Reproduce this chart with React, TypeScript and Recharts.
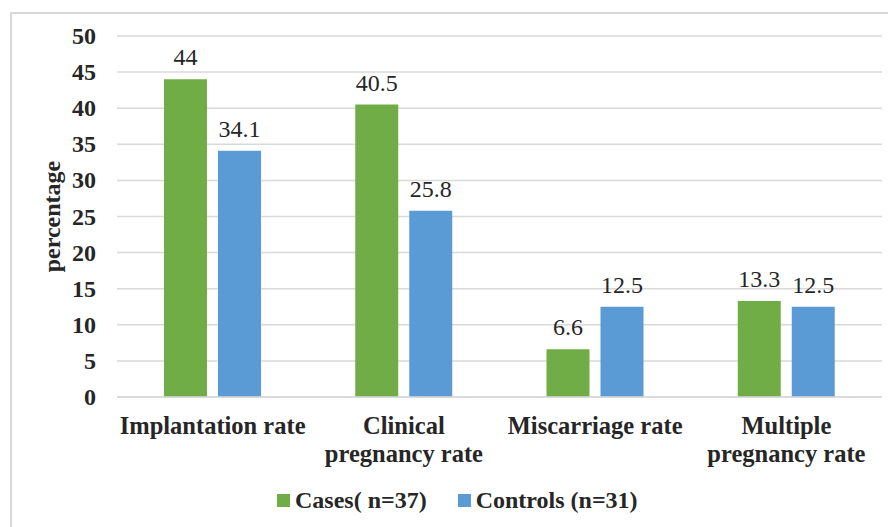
import { BarChart, Bar, XAxis, YAxis, CartesianGrid, Legend, LabelList } from "recharts";

const categories = ["Implantation rate", "Clinical pregnancy rate", "Miscarriage rate", "Multiple pregnancy rate"];
const categoryLines: Record<string, string[]> = {
  "Implantation rate": ["Implantation rate"],
  "Clinical pregnancy rate": ["Clinical", "pregnancy rate"],
  "Miscarriage rate": ["Miscarriage rate"],
  "Multiple pregnancy rate": ["Multiple", "pregnancy rate"],
};
const cases = [44, 40.5, 6.6, 13.3];
const controls = [34.1, 25.8, 12.5, 12.5];
const yTicks = [0, 5, 10, 15, 20, 25, 30, 35, 40, 45, 50];

const series = [
  { key: "cases", name: "Cases( n=37)", color: "#70AD47" },
  { key: "controls", name: "Controls (n=31)", color: "#5B9BD5" },
];

const FONT = '"Liberation Serif", "Times New Roman", serif';
const TEXT = "#262626";

const data = categories.map((c, i) => ({ name: c, cases: cases[i], controls: controls[i] }));

function CategoryTick(props: any) {
  const { x, y, payload } = props;
  const lines = categoryLines[payload.value] || [payload.value];
  return (
    <text
      x={x}
      y={y + 29}
      textAnchor="middle"
      fontSize={24.5}
      fontWeight="bold"
      fill={TEXT}
      style={{ fontFamily: FONT }}
    >
      {lines.map((l, i) => (
        <tspan key={i} x={x} dy={i === 0 ? 0 : 28}>
          {l}
        </tspan>
      ))}
    </text>
  );
}

function ValueTick(props: any) {
  const { x, y, payload } = props;
  return (
    <text
      x={x}
      y={y}
      textAnchor="end"
      dominantBaseline="central"
      fontSize={24}
      fontWeight="bold"
      fill={TEXT}
      style={{ fontFamily: FONT }}
    >
      {payload.value}
    </text>
  );
}

function BarValue(props: any) {
  const { x, y, width, value } = props;
  return (
    <text
      x={x + width / 2}
      y={y - 14}
      textAnchor="middle"
      fontSize={24}
      fill={TEXT}
      style={{ fontFamily: FONT }}
    >
      {value}
    </text>
  );
}

function YLabel(props: any) {
  const { viewBox } = props;
  const cx = 52;
  const cy = viewBox.y + viewBox.height / 2;
  return (
    <text
      x={cx}
      y={cy}
      transform={`rotate(-90 ${cx} ${cy})`}
      textAnchor="middle"
      dominantBaseline="central"
      fontSize={24}
      fontWeight="bold"
      fill={TEXT}
      style={{ fontFamily: FONT }}
    >
      percentage
    </text>
  );
}

function LegendContent() {
  return (
    <div style={{ display: "flex", paddingLeft: 277, paddingTop: 5, fontFamily: FONT }}>
      {series.map((s) => (
        <div key={s.key} style={{ display: "flex", alignItems: "center", marginRight: 31 }}>
          <span style={{ display: "inline-block", width: 13, height: 13, background: s.color, marginRight: 5 }} />
          <span style={{ fontSize: 24, fontWeight: "bold", color: TEXT, lineHeight: "26px" }}>{s.name}</span>
        </div>
      ))}
    </div>
  );
}

export default function App() {
  return (
    <div style={{ position: "absolute", left: 0, top: 0, width: 888, height: 527, overflow: "hidden", background: "#fff" }}>
      <div
        style={{
          position: "absolute",
          left: 10,
          top: 12,
          width: 900,
          height: 540,
          border: "2px solid #d9d9d9",
          boxSizing: "border-box",
        }}
      />
      <div style={{ position: "absolute", left: 0, top: 0 }}>
        <BarChart width={888} height={527} data={data} margin={{ top: 36, right: 6, left: 0, bottom: 5 }} barGap={11}>
          <CartesianGrid vertical={false} stroke="#d9d9d9" strokeWidth={1.5} />
          <XAxis
            dataKey="name"
            tick={<CategoryTick />}
            tickLine={false}
            axisLine={{ stroke: "#d9d9d9", strokeWidth: 1.5 }}
            height={85}
            interval={0}
          />
          <YAxis
            width={117}
            domain={[0, 50]}
            ticks={yTicks}
            tickLine={false}
            axisLine={false}
            tickMargin={15}
            tick={<ValueTick />}
            label={<YLabel />}
          />
          <Legend verticalAlign="bottom" height={40} content={<LegendContent />} />
          {series.map((s) => (
            <Bar key={s.key} dataKey={s.key} name={s.name} fill={s.color} barSize={43} isAnimationActive={false}>
              <LabelList dataKey={s.key} content={<BarValue />} />
            </Bar>
          ))}
        </BarChart>
      </div>
    </div>
  );
}
